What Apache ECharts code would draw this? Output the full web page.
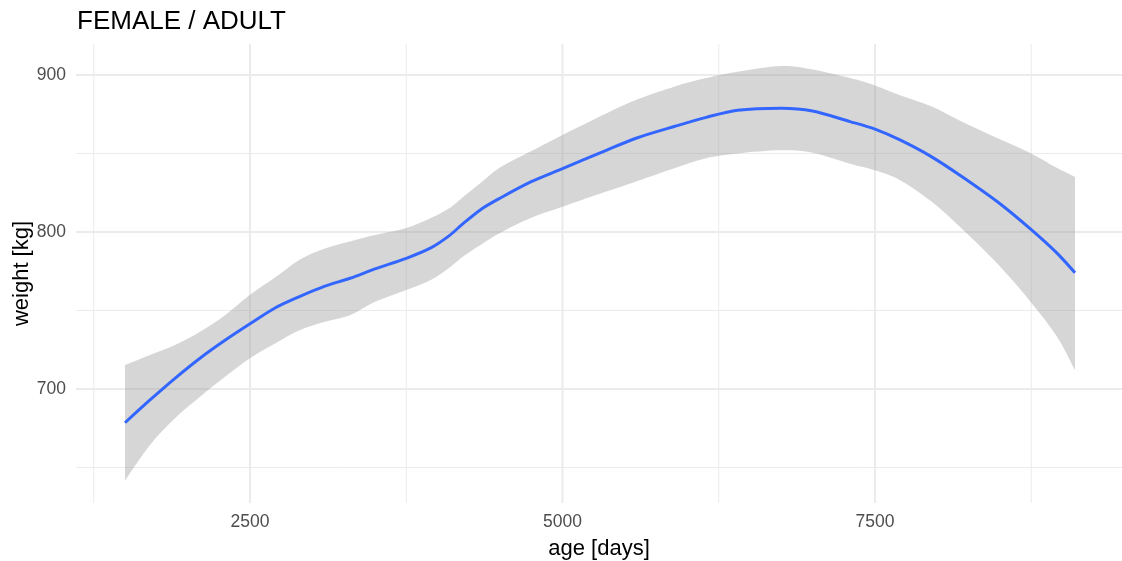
<!DOCTYPE html>
<html>
<head>
<meta charset="utf-8">
<script src="https://cdn.jsdelivr.net/npm/echarts@6/dist/echarts.min.js"></script>
<style>html,body{margin:0;padding:0;background:#fff;}#c{width:1122px;height:561px;}</style>
</head>
<body>
<div id="c"></div>
<script>
const ages = [1500,1700,1900,2100,2300,2500,2700,2900,3100,3300,3500,3750,3950,4100,4200,4350,4500,4750,5000,5350,5600,5900,6150,6400,6750,7000,7300,7500,7700,7950,8200,8500,8750,8950,9100];
const fitWeight = [678.5,693,706.8,719.6,731,741.5,751.6,759,765.5,770.5,776.5,783.2,790,798,805,814.5,821.5,832,840.3,852,860,867.3,873,877.5,878.8,877,870.3,865.5,858.6,848,835,818,801.5,787,774];
const upperWeight = [715.3,721.7,728,736.5,747,760,771,782.5,789.5,794,798,802.5,809,815.5,822,831.5,841,851.5,861.8,875.5,884.5,892.7,898,902,905.7,903.5,898,893.3,887,880,870,859,850,841,835];
const lowerWeight = [641.6,664.3,681.3,695,707.8,719.6,729,737.6,742.8,747,755.5,763,769.6,777.5,784,792,799.3,809,816,825.7,832.5,840.8,847,850,852,850.5,843.5,839.3,833,819.5,801.7,778,755,734,712];
const xTicks = [2500,5000,7500];
const yTicks = [700,800,900];
const xMinorGrid = [1250,3750,6250,8750];
const yMinorGrid = [650,750,850];

const chart = echarts.init(document.getElementById('c'), null, {renderer:'canvas'});
const font = '"Liberation Sans", Arial, sans-serif';

const vGrid = xTicks.map(v=>[v, 800, 2]).concat(xMinorGrid.map(v=>[v, 800, 1]));
const hGrid = yTicks.map(v=>[5000, v, 2]).concat(yMinorGrid.map(v=>[5000, v, 1]));

function catmull(pts){
  let d = '';
  for (let i=0;i<pts.length-1;i++){
    const p0 = pts[i-1] || pts[i], p1 = pts[i], p2 = pts[i+1], p3 = pts[i+2] || pts[i+1];
    const c1x = p1[0] + (p2[0]-p0[0])/6, c1y = p1[1] + (p2[1]-p0[1])/6;
    const c2x = p2[0] - (p3[0]-p1[0])/6, c2y = p2[1] - (p3[1]-p1[1])/6;
    d += ' C' + c1x + ' ' + c1y + ' ' + c2x + ' ' + c2y + ' ' + p2[0] + ' ' + p2[1];
  }
  return d;
}

chart.setOption({
  animation:false,
  backgroundColor:'#ffffff',
  textStyle:{fontFamily:font},
  title:{text:'FEMALE / ADULT', left:72, top:4, textStyle:{fontSize:26, fontWeight:'normal', color:'#000', fontFamily:font}},
  grid:{left:76, right:0, top:44, bottom:58, containLabel:false, outerBoundsMode:'none'},
  xAxis:{type:'value', min:1108, max:9476,
    name:'age [days]', nameLocation:'middle', nameGap:35, nameMoveOverlap:false,
    nameTextStyle:{fontSize:22, color:'#000', fontFamily:font},
    axisLine:{show:false}, axisTick:{show:false}, splitLine:{show:false},
    axisLabel:{customValues:xTicks, formatter:v=>String(v), fontSize:17.5, color:'#4D4D4D', margin:10, fontFamily:font}},
  yAxis:{type:'value', min:627.4, max:919.7,
    name:'weight [kg]', nameLocation:'middle', nameGap:43, nameMoveOverlap:false,
    nameTextStyle:{fontSize:22, color:'#000', fontFamily:font},
    axisLine:{show:false}, axisTick:{show:false}, splitLine:{show:false},
    axisLabel:{customValues:yTicks, formatter:v=>String(v), fontSize:17.5, color:'#4D4D4D', margin:10, fontFamily:font}},
  series:[
    {type:'custom', z:0, silent:true, data:vGrid, encode:{x:0, y:1},
      renderItem:(params, api)=>{
        const cs = params.coordSys; const p = api.coord([api.value(0), api.value(1)]);
        return {type:'line', shape:{x1:p[0], y1:cs.y, x2:p[0], y2:cs.y+cs.height},
          style:{stroke:'#EBEBEB', lineWidth:api.value(2)}};
      }},
    {type:'custom', z:0, silent:true, data:hGrid, encode:{x:0, y:1},
      renderItem:(params, api)=>{
        const cs = params.coordSys; const p = api.coord([api.value(0), api.value(1)]);
        return {type:'line', shape:{x1:cs.x, y1:p[1], x2:cs.x+cs.width, y2:p[1]},
          style:{stroke:'#EBEBEB', lineWidth:api.value(2)}};
      }},
    {type:'custom', z:1, silent:true, clip:false,
      data:ages.map((a,i)=>[a, lowerWeight[i], upperWeight[i]]), encode:{x:0, y:[1,2]},
      renderItem:(params, api)=>{
        if (params.dataIndex !== 0) return null;
        const up = ages.map((a,i)=>api.coord([a, upperWeight[i]]));
        const lo = ages.map((a,i)=>api.coord([a, lowerWeight[i]])).reverse();
        let d = 'M' + up[0][0] + ' ' + up[0][1] + catmull(up) +
                ' L' + lo[0][0] + ' ' + lo[0][1] + catmull(lo) + ' Z';
        return {type:'path', shape:{pathData:d}, style:{fill:'rgba(153,153,153,0.4)', stroke:null}};
      }},
    {type:'line', z:2, smooth:0.3, symbol:'none', silent:true,
      data:ages.map((a,i)=>[a, fitWeight[i]]), lineStyle:{color:'#3366FF', width:3}}
  ]
});
</script>
</body>
</html>
